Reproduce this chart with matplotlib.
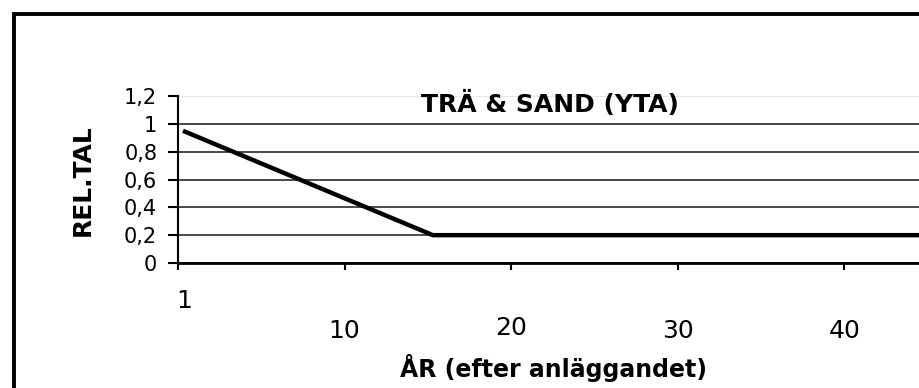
import matplotlib
matplotlib.use("Agg")
import matplotlib.pyplot as plt
from matplotlib.patches import Rectangle

# data
years = [1, 16, 60]
rel_tal = [0.95, 0.2, 0.2]

y_ticks = [0, 0.2, 0.4, 0.6, 0.8, 1.0, 1.2]
y_labels = ["0", "0,2", "0,4", "0,6", "0,8", "1", "1,2"]

x_ticks = [0.7, 10.7, 20.7, 30.7, 40.7]
x_labels = ["1", "10", "20", "30", "40"]

title = "TRÄ & SAND (YTA)"
xlabel = "ÅR (efter anläggandet)"
ylabel = "REL.TAL"

plt.rcParams["font.family"] = ["DejaVu Sans"]

W, H = 919, 388
fig = plt.figure(figsize=(W / 100, H / 100), dpi=100)
fig.patch.set_facecolor("white")

# axes runs past the right edge of the figure, like the cropped source
ax = fig.add_axes([178 / W, 1 - 263 / H, 833 / W, 167 / H])
ax.set_xlim(0.7, 50.7)
ax.set_ylim(0, 1.2)

ax.plot(years, rel_tal, color="black", lw=3.2, solid_capstyle="butt", zorder=3)

ax.set_yticks(y_ticks)
ax.set_yticklabels(y_labels, fontsize=15)
ax.yaxis.grid(True, color="#4a4a4a", lw=1.4)
ax.get_ygridlines()[-1].set_color("#e6e6e6")
ax.set_axisbelow(True)

ax.set_xticks(x_ticks)
ax.set_xticklabels([])
ax.tick_params(axis="y", direction="out", length=7, width=1.5, pad=8)
ax.tick_params(axis="x", direction="out", length=5, width=1.5)

# staggered x labels, as in the source
label_y = [-0.23, -0.41, -0.39, -0.41, -0.41]
label_dx = [0.35, 0, 0, 0, 0]
for xt, lab, ly, dx in zip(x_ticks, x_labels, label_y, label_dx):
    ax.text(xt + dx, ly, lab, transform=ax.get_xaxis_transform(),
            ha="center", va="center", fontsize=18)

for side in ["top", "right"]:
    ax.spines[side].set_visible(False)
ax.spines["left"].set_linewidth(1.5)
ax.spines["bottom"].set_linewidth(2)

fig.text(550 / W, 1 - 104 / H, title, ha="center", va="center",
         fontsize=18, fontweight="bold")
fig.text(554 / W, 1 - 368 / H, xlabel, ha="center", va="center",
         fontsize=17, fontweight="bold")
fig.text(83 / W, 1 - 180 / H, ylabel, ha="center", va="center",
         fontsize=18, fontweight="bold", rotation=90)

# outer chart frame
fig.add_artist(Rectangle((13.5 / W, -0.5), 2, 1 - 13.5 / H + 0.5,
                         transform=fig.transFigure, fill=False,
                         lw=2.8, ec="black"))

fig.savefig("out.png", dpi=100)
